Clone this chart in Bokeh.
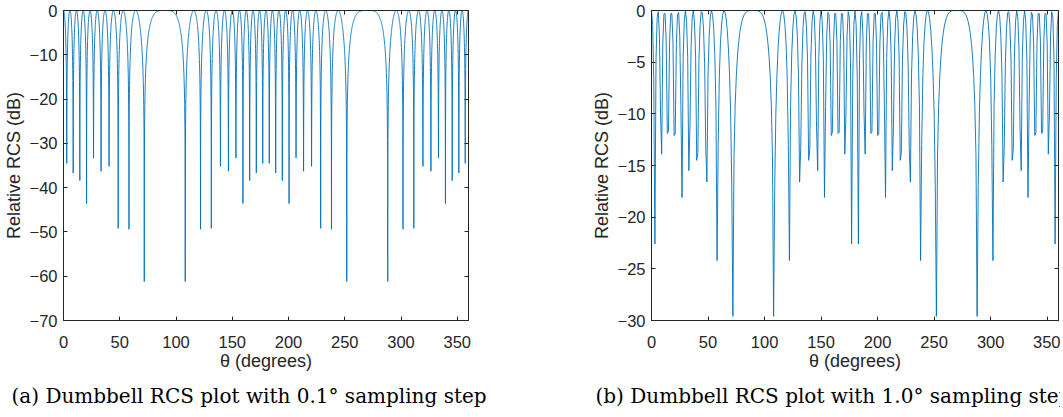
import numpy as np
from bokeh.plotting import figure
from bokeh.layouts import row
from bokeh.models import LinearAxis, FixedTicker, Range1d
from bokeh.embed import file_html
from bokeh.resources import INLINE

# ---------------- data ----------------
THETA_TICKS = [0, 50, 100, 150, 200, 250, 300, 350]
DB_TICKS_A = [-70, -60, -50, -40, -30, -20, -10, 0]
DB_TICKS_B = [-30, -25, -20, -15, -10, -5, 0]

# angles (degrees) of the nulls of the RCS pattern
NULL_DEG = [2.9, 8.6, 14.5, 20.5, 26.7, 33.4, 40.5, 48.6, 58.2, 71.8,
            108.2, 121.8, 131.4, 139.5, 146.6, 153.3, 159.5, 165.5, 171.4, 177.1,
            182.9, 188.6, 194.5, 200.5, 206.7, 213.4, 220.5, 228.6, 238.2, 251.8,
            288.2, 301.8, 311.4, 319.5, 326.6, 333.3, 339.5, 345.5, 351.4, 357.1]
# angles (degrees) of the lobe maxima (0 dB)
PEAK_DEG = [0.0, 5.7, 11.5, 17.5, 23.6, 30.0, 36.9, 44.4, 53.1, 64.2,
            90.0, 115.8, 126.9, 135.6, 143.1, 150.0, 156.4, 162.5, 168.5, 174.3,
            180.0, 185.7, 191.5, 197.5, 203.6, 210.0, 216.9, 224.4, 233.1, 244.2,
            270.0, 295.8, 306.9, 315.6, 323.1, 330.0, 336.4, 342.5, 348.5, 354.3,
            360.0]
# depth (dB) of each null, panel (a): 0.1 degree sampling
NULL_DB_A = [-34.5, -36.7, -38.4, -43.6, -33.3, -36.3, -35.2, -49.2, -49.4, -61.2,
             -61.2, -49.4, -49.2, -35.2, -36.3, -33.3, -43.6, -38.4, -36.7, -34.5,
             -34.5, -36.7, -38.4, -43.6, -33.3, -36.3, -35.2, -49.2, -49.4, -61.2,
             -61.2, -49.4, -49.2, -35.2, -36.3, -33.3, -43.6, -38.4, -36.7, -34.5]
# depth (dB) of each null, panel (b): 1.0 degree sampling
NULL_DB_B = [-22.6, -13.9, -11.9, -12.1, -18.1, -15.5, -14.5, -16.6, -24.2, -29.6,
             -29.6, -24.2, -16.6, -14.5, -15.5, -18.1, -12.1, -11.9, -13.9, -22.6,
             -22.6, -13.9, -11.9, -12.1, -18.1, -15.5, -14.5, -16.6, -24.2, -29.6,
             -29.6, -24.2, -16.6, -14.5, -15.5, -18.1, -12.1, -11.9, -13.9, -22.6]
STEP_A = 0.1
STEP_B = 1.0

CAPTION_A = "(a) Dumbbell RCS plot with 0.1\u00b0 sampling step"
CAPTION_B = "(b) Dumbbell RCS plot with 1.0\u00b0 sampling step"


def sampled_curve(step, null_db):
    """Sample the lobe structure (nulls/peaks read above) at the given step."""
    nulls = np.array(NULL_DEG)
    peaks = np.array(PEAK_DEG)
    depth = np.array(null_db)
    theta = np.round(np.arange(0.0, 360.0 + step / 2, step), 6)
    k = np.searchsorted(nulls, theta)
    pk = peaks[k]
    edge = np.clip(np.where(theta < pk, k - 1, k), 0, len(nulls) - 1)
    w = lambda a: np.abs(np.sin(np.radians(a)))
    den = w(nulls[edge]) - w(pk)
    s = np.clip((w(theta) - w(pk)) / den, 0.0, 1.0)
    y = 20 * np.log10(np.maximum(np.abs(np.cos(np.pi / 2 * s)), 1e-6))
    y = np.maximum(y, depth[edge])
    for j, n in enumerate(nulls):
        i = int(np.argmin(np.abs(theta - n)))
        y[i] = depth[j]
    return theta, y


AX = "#262626"
TICK_FONT = "Liberation Sans"


def make_fig(theta, y, yticks, ymin, caption, border_left, border_right, frame_w, cap_offset):
    p = figure(frame_width=frame_w, frame_height=310,
               x_range=Range1d(0, 360), y_range=Range1d(ymin, 0),
               output_backend="svg", toolbar_location=None,
               title_location="below",
               min_border_left=border_left, min_border_right=border_right,
               min_border_top=10, min_border_bottom=0,
               background_fill_color="white", border_fill_color="white")
    p.line(theta, y, line_color="#0072BD", line_width=0.9)
    p.grid.visible = False
    p.outline_line_color = AX
    p.outline_line_width = 1

    for ax, ticks in ((p.xaxis[0], THETA_TICKS), (p.yaxis[0], yticks)):
        ax.ticker = FixedTicker(ticks=ticks)
        ax.minor_tick_line_color = None
        ax.major_tick_in = 4
        ax.major_tick_out = 0
        ax.major_tick_line_color = AX
        ax.axis_line_color = AX
        ax.major_label_text_font = TICK_FONT
        ax.major_label_text_font_size = "16.5px"
        ax.major_label_text_color = AX
        ax.axis_label_text_font = TICK_FONT
        ax.axis_label_text_font_size = "18px"
        ax.axis_label_text_font_style = "normal"
        ax.axis_label_text_color = AX
    p.xaxis[0].axis_label = "\u03b8 (degrees)"
    p.yaxis[0].axis_label = "Relative RCS (dB)"
    p.xaxis[0].major_label_standoff = 15
    p.xaxis[0].axis_label_standoff = 0
    p.yaxis[0].major_label_standoff = 6
    p.yaxis[0].axis_label_standoff = 3

    for loc, ticks in (("right", yticks), ("above", THETA_TICKS)):
        ax = LinearAxis(ticker=FixedTicker(ticks=ticks),
                        major_label_overrides={t: "" for t in ticks},
                        major_label_text_font_size="0px",
                        major_label_standoff=0,
                        major_tick_in=4, major_tick_out=0,
                        major_tick_line_color=AX,
                        minor_tick_line_color=None,
                        axis_line_color=AX)
        p.add_layout(ax, loc)

    p.title.text = caption
    p.title.text_font = "DejaVu Serif"
    p.title.text_font_size = "20px"
    p.title.text_font_style = "normal"
    p.title.text_color = "black"
    p.title.align = "left"
    p.title.offset = cap_offset
    p.title.standoff = 16
    return p


ta, ya = sampled_curve(STEP_A, NULL_DB_A)
tb, yb = sampled_curve(STEP_B, NULL_DB_B)

fig_a = make_fig(ta, ya, DB_TICKS_A, -70, CAPTION_A, 55, 30, 405, -52)
fig_b = make_fig(tb, yb, DB_TICKS_B, -30, CAPTION_B, 153, 2, 407, -56)

layout = row(fig_a, fig_b)
open("out.html", "w").write(file_html(layout, INLINE))
